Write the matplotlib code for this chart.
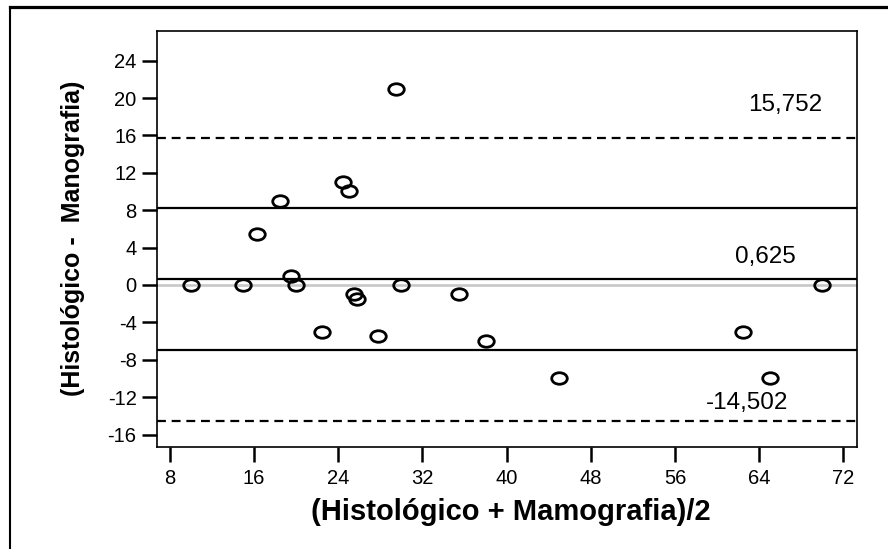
import numpy as np
import matplotlib
matplotlib.use("Agg")
import matplotlib.pyplot as plt
from matplotlib.path import Path
from matplotlib.transforms import Affine2D
from matplotlib.lines import Line2D

# Bland-Altman: media y diferencia de las dos mediciones
media = [10, 15, 16.3, 18.5, 19.5, 20, 22.5, 24.5, 25, 25.5,
         25.75, 27.8, 29.5, 30, 35.5, 38, 45, 62.5, 65, 70]
dif = [0, 0, 5.5, 9, 1, 0, -5, 11, 10, -1,
       -1.5, -5.5, 21, 0, -1, -6, -10, -5, -10, 0]

etiquetas = ["15,752", "0,625", "-14,502"]
etiq_x = [66.45, 64.55, 62.85]
etiq_y = [19.25, 3.0, -12.6]

xticks = [8, 16, 24, 32, 40, 48, 56, 64, 72]
yticks = [-16, -12, -8, -4, 0, 4, 8, 12, 16, 20, 24]

plt.rcParams['font.family'] = ['Liberation Sans', 'DejaVu Sans']
plt.rcParams['axes.unicode_minus'] = False

d = np.array(dif)
m = d.mean()
sd = d.std(ddof=1)

fig = plt.figure(figsize=(8.88, 5.49), dpi=100)
ax = fig.add_axes([0.1765, 0.1863, 0.9651 - 0.1765, 0.9441 - 0.1863])

# marco exterior (SPSS)
fig.add_artist(Line2D([10 / 888, 10 / 888], [0, 1 - 6.7 / 549], color='black', lw=1.5,
                      transform=fig.transFigure))
fig.add_artist(Line2D([10 / 888, 1], [1 - 6.7 / 549, 1 - 6.7 / 549], color='black', lw=2.3,
                      transform=fig.transFigure))

guion = (0, (4, 2.6))
ax.axhline(0, color='#c8c8c8', lw=1.9, zorder=1)
ax.axhline(m, color='black', lw=1.6, zorder=2)
ax.axhline(m + sd, color='black', lw=1.6, zorder=2)
ax.axhline(m - sd, color='black', lw=1.6, zorder=2)
ax.axhline(m + 2 * sd, color='black', lw=1.6, ls=guion, zorder=2)
ax.axhline(m - 2 * sd, color='black', lw=1.6, ls=guion, zorder=2)

elipse = Affine2D().scale(1, 0.74).transform_path(Path.unit_circle())
ax.plot(media, dif, ls='none', marker=elipse, markersize=11.2, mfc='none',
        mec='black', mew=2.0, zorder=3)

for t, x, y in zip(etiquetas, etiq_x, etiq_y):
    ax.text(x, y, t, ha='center', va='center', fontsize=17.5, zorder=4)

ax.set_xlim(6.76, 73.3)
ax.set_ylim(-17.3, 27.2)
ax.set_xticks(xticks)
ax.set_yticks(yticks)
ax.tick_params(axis='both', length=11, width=1.8, labelsize=14.5, color='black')
ax.tick_params(axis='y', pad=3.5)
ax.tick_params(axis='x', pad=5)
for s in ax.spines.values():
    s.set_linewidth(1.2)

ax.set_xlabel('(Histológico + Mamografia)/2', fontsize=21, fontweight='bold')
ax.set_ylabel('(Histológico -  Manografia)', fontsize=18, fontweight='bold')
ax.xaxis.label.set_va('center')
ax.yaxis.label.set_va('center')
ax.xaxis.set_label_coords(0.506, -0.157)
ax.yaxis.set_label_coords(-0.1195, 0.5)

fig.savefig('out.png', dpi=100)
